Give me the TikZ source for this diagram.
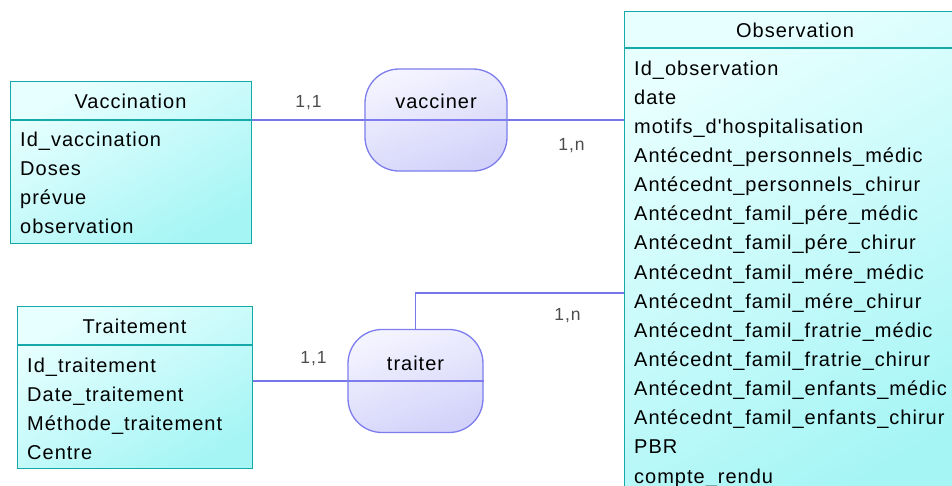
\documentclass[tikz,border=0pt]{standalone}
\usepackage{fontspec}
\setmainfont[LetterSpace=5, Ligatures=TeXOff]{Liberation Sans}
\definecolor{entborder}{HTML}{16A9A9}
\definecolor{entlight}{HTML}{E8FFFF}
\definecolor{entdark}{HTML}{A6F5F5}
\definecolor{asborder}{HTML}{7D7DEE}
\definecolor{aslight}{HTML}{F4F4FF}
\definecolor{asdark}{HTML}{D2D2FA}
\definecolor{linkcol}{HTML}{7676E8}
\tikzset{
    entity/.style={draw=entborder, line width=1.2pt, rectangle, inner sep=0pt,
        top color=entlight, bottom color=entdark, shading angle=30},
    assoc/.style={draw=asborder, line width=1.3pt, rectangle, rounded corners=34pt, inner sep=0pt,
        top color=aslight, bottom color=asdark, shading angle=20},
    txt/.style={font=\fontsize{20}{22}\selectfont, inner sep=0pt, text=black, anchor=base},
    attr/.style={txt, anchor=base west},
    card/.style={font=\fontsize{17.5}{20}\selectfont, inner sep=0pt, text=black!70, anchor=base},
    link/.style={draw=linkcol, line width=1.5pt},
}
\begin{document}
\begin{tikzpicture}[x=1pt, y=-1pt]
            \clip (0,0) rectangle (952,485);
            \fill[white] (0,0) rectangle (952,485);

            % entities
            \node[entity, anchor=north west, minimum width=241pt, minimum height=162pt] (vacc) at (10,81) {};
            \draw[entborder, line width=1.2pt] (10,120) -- (251,120);
            \node[txt] (vacctitle) at (130.5,108) {Vaccination};
            \node[attr] (vacc1) at (20,146) {Id\_vaccination};
            \node[attr] (vacc2) at (20,175) {Doses};
            \node[attr] (vacc3) at (20,204) {prévue};
            \node[attr] (vacc4) at (20,233) {observation};

            \node[entity, anchor=north west, minimum width=235pt, minimum height=162pt] (trait) at (17,306) {};
            \draw[entborder, line width=1.2pt] (17,345) -- (252,345);
            \node[txt] (traittitle) at (134.5,333) {Traitement};
            \node[attr] (trait1) at (27,372) {Id\_traitement};
            \node[attr] (trait2) at (27,401) {Date\_traitement};
            \node[attr] (trait3) at (27,430) {Méthode\_traitement};
            \node[attr] (trait4) at (27,459) {Centre};

            \node[entity, anchor=north west, minimum width=342pt, minimum height=500pt] (obs) at (624,11) {};
            \draw[entborder, line width=1.2pt] (624,48) -- (966,48);
            \node[txt] (obstitle) at (795,37) {Observation};
            \node[attr] (obs1) at (634,75) {Id\_observation};
            \node[attr] (obs2) at (634,104) {date};
            \node[attr] (obs3) at (634,133) {motifs\_d'hospitalisation};
            \node[attr] (obs4) at (634,162.5) {Antécednt\_personnels\_médic};
            \node[attr] (obs5) at (634,191.5) {Antécednt\_personnels\_chirur};
            \node[attr] (obs6) at (634,220.5) {Antécednt\_famil\_pére\_médic};
            \node[attr] (obs7) at (634,249.5) {Antécednt\_famil\_pére\_chirur};
            \node[attr] (obs8) at (634,279) {Antécednt\_famil\_mére\_médic};
            \node[attr] (obs9) at (634,308) {Antécednt\_famil\_mére\_chirur};
            \node[attr] (obs10) at (634,337) {Antécednt\_famil\_fratrie\_médic};
            \node[attr] (obs11) at (634,366) {Antécednt\_famil\_fratrie\_chirur};
            \node[attr] (obs12) at (634,395) {Antécednt\_famil\_enfants\_médic};
            \node[attr] (obs13) at (634,424.5) {Antécednt\_famil\_enfants\_chirur};
            \node[attr] (obs14) at (634,453.5) {PBR};
            \node[attr] (obs15) at (634,483) {compte\_rendu};

            % associations
            \node[assoc, minimum width=142pt, minimum height=102pt] (vacciner) at (436,120) {};
            \draw[asborder, line width=1.2pt] (vacciner.west) -- (vacciner.east);
            \node[txt] (vaccinertxt) at (436,108) {vacciner};

            \node[assoc, minimum width=135pt, minimum height=103pt] (traiter) at (415.5,381) {};
            \draw[asborder, line width=1.2pt] (traiter.west) -- (traiter.east);
            \node[txt] (traitertxt) at (415.5,370) {traiter};

            % links
            \coordinate (obsin) at (624,293);
            \draw[link] (vacc.east |- vacciner.west) -- (vacciner.west);
            \draw[link] (vacciner.east) -- (obs.west |- vacciner.east);
            \draw[link] (trait.east |- traiter.west) -- (traiter.west);
            \draw[link] (traiter.north) |- (obsin);

            % cardinalities
            \node[card] (c1) at (308.5,107) {1,1};
            \node[card] (c2) at (571.5,150) {1,n};
            \node[card] (c3) at (567.5,320) {1,n};
            \node[card] (c4) at (313.5,363) {1,1};
        \end{tikzpicture}
\end{document}
